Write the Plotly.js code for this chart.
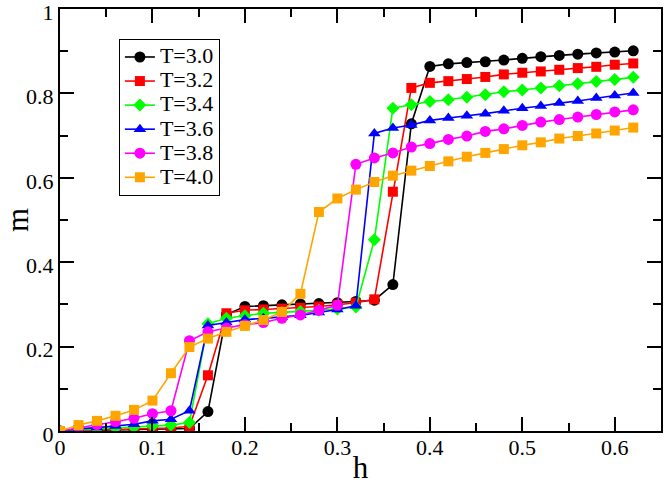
<!DOCTYPE html>
<html>
<head>
<meta charset="utf-8">
<script src="https://cdn.plot.ly/plotly-3.0.1.min.js"></script>
<style>body{margin:0;padding:0;background:#fff;} #chart{width:664px;height:485px;}</style>
</head>
<body>
<div id="chart"></div>
<script>
const h = [0,0.02,0.04,0.06,0.08,0.10,0.12,0.14,0.16,0.18,0.20,0.22,0.24,0.26,0.28,0.30,0.32,0.34,0.36,0.38,0.40,0.42,0.44,0.46,0.48,0.50,0.52,0.54,0.56,0.58,0.60,0.62];

const m30 = [0,0.001,0.002,0.002,0.003,0.004,0.005,0.006,0.046,0.276,0.295,0.297,0.299,0.301,0.302,0.304,0.307,0.310,0.347,0.728,0.864,0.870,0.873,0.875,0.879,0.883,0.887,0.890,0.893,0.896,0.898,0.901];
const m32 = [0,0.001,0.002,0.003,0.004,0.005,0.007,0.011,0.132,0.279,0.286,0.288,0.290,0.292,0.295,0.299,0.304,0.312,0.567,0.813,0.825,0.829,0.834,0.839,0.845,0.849,0.852,0.856,0.860,0.863,0.868,0.871];
const m34 = [0,0.003,0.005,0.007,0.009,0.012,0.014,0.020,0.254,0.267,0.273,0.279,0.281,0.283,0.286,0.289,0.294,0.453,0.765,0.773,0.781,0.785,0.791,0.797,0.804,0.808,0.813,0.818,0.823,0.828,0.833,0.838];
const m36 = [0,0.005,0.008,0.012,0.016,0.024,0.028,0.048,0.250,0.257,0.264,0.267,0.270,0.274,0.281,0.288,0.297,0.705,0.718,0.725,0.736,0.742,0.747,0.752,0.759,0.765,0.770,0.777,0.782,0.789,0.795,0.801];
const m38 = [0,0.008,0.015,0.022,0.030,0.041,0.048,0.214,0.235,0.244,0.252,0.257,0.267,0.275,0.286,0.298,0.632,0.647,0.659,0.673,0.681,0.691,0.699,0.710,0.716,0.724,0.732,0.738,0.744,0.750,0.756,0.761];
const m40 = [0,0.014,0.024,0.036,0.050,0.072,0.137,0.199,0.219,0.235,0.249,0.263,0.282,0.325,0.519,0.551,0.572,0.590,0.605,0.617,0.628,0.639,0.650,0.659,0.668,0.677,0.684,0.693,0.699,0.705,0.712,0.719];

const names = ["T=3.0","T=3.2","T=3.4","T=3.6","T=3.8","T=4.0"];
const xTickVals = [0,0.1,0.2,0.3,0.4,0.5,0.6];
const xTickText = ["0","0.1","0.2","0.3","0.4","0.5","0.6"];
const yTickVals = [0,0.2,0.4,0.6,0.8,1];
const yTickText = ["0","0.2","0.4","0.6","0.8","1"];

const series = [m30,m32,m34,m36,m38,m40];
const colors = ["#000000","#ff0000","#00ff00","#0000ff","#ff00ff","#ffa500"];
const symbols = ["circle","square","diamond","triangle-up","circle","square"];
const sizes = [11,10,10,11,11,10];

const traces = series.map((y,i)=>({
  x: h, y: y, name: '<span style="font-size:22px">' + names[i] + '</span>',
  type: "scatter", mode: "lines+markers",
  line: {color: colors[i], width: 1.6},
  marker: {color: colors[i], symbol: symbols[i], size: sizes[i], line: {width: 0}}
}));

const fontFam = "Liberation Serif";
const axisCommon = {
  showgrid: false, zeroline: false, showline: true, linecolor: "#000", linewidth: 2,
  mirror: "allticks", ticks: "inside", ticklen: 14, tickwidth: 2, tickcolor: "#000",
  ticklabeloverflow: "allow",
  tickfont: {family: fontFam, size: 22, color: "#000"}
};

const layout = {
  width: 664, height: 485,
  margin: {l: 60, r: 3, t: 9, b: 54},
  paper_bgcolor: "#fff", plot_bgcolor: "#fff",
  showlegend: true,
  font: {family: fontFam, size: 20, color: "#000"},
  xaxis: Object.assign({}, axisCommon, {
    range: [0, 0.65], tickmode: "array", tickvals: xTickVals, ticktext: xTickText,
    ticklabelstandoff: -4,
    minor: {tickmode: "linear", dtick: 0.05, tick0: 0, ticks: "inside", ticklen: 8, tickwidth: 2, tickcolor: "#000", showgrid: false},
    title: {text: "h", font: {family: fontFam, size: 31, color: "#000"}, standoff: 6}
  }),
  yaxis: Object.assign({}, axisCommon, {
    range: [0, 1], tickmode: "array", tickvals: yTickVals, ticktext: yTickText,
    ticklabelshift: 3,
    minor: {tickmode: "linear", dtick: 0.1, tick0: 0, ticks: "inside", ticklen: 8, tickwidth: 2, tickcolor: "#000", showgrid: false},
    title: {text: "m", font: {family: fontFam, size: 31, color: "#000"}, standoff: 14}
  }),
  legend: {
    x: 0.098, y: 0.929, xanchor: "left", yanchor: "top",
    bgcolor: "#fff", bordercolor: "#000", borderwidth: 1,
    font: {family: fontFam, size: 16.2, color: "#000"},
    tracegroupgap: 0, itemwidth: 30
  }
};

Plotly.newPlot("chart", traces, layout, {staticPlot: true, displayModeBar: false});
</script>
</body>
</html>
